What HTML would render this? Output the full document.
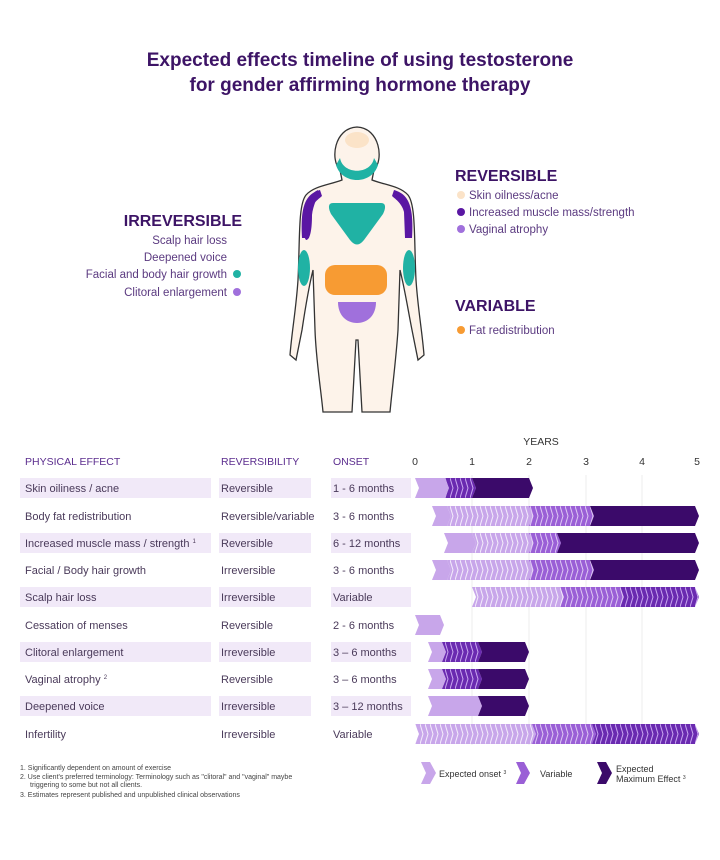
<!DOCTYPE html>
<html><head><meta charset="utf-8"><style>
html,body{margin:0;padding:0;background:#fff;}
svg{display:block;font-family:"Liberation Sans",sans-serif;}
</style></head><body>
<svg width="720" height="860" viewBox="0 0 720 860" xmlns="http://www.w3.org/2000/svg">
<defs>
<pattern id="pL" patternUnits="userSpaceOnUse" width="5" height="20"><rect width="5" height="20" fill="#c8a6ea"/><path d="M0,0 L3,10 L0,20" stroke="#fff" stroke-width="1" fill="none" opacity="0.8"/></pattern>
<pattern id="pM" patternUnits="userSpaceOnUse" width="5" height="20"><rect width="5" height="20" fill="#9a5fd6"/><path d="M0,0 L3,10 L0,20" stroke="#e6d5f7" stroke-width="1" fill="none" opacity="0.9"/></pattern>
<pattern id="pD" patternUnits="userSpaceOnUse" width="5" height="20"><rect width="5" height="20" fill="#6a2ab0"/><path d="M0,0 L3,10 L0,20" stroke="#c9a7f0" stroke-width="1" fill="none"/></pattern>
</defs>
<rect width="720" height="860" fill="#fff"/>
<g fill="#3d1466" font-weight="bold" font-size="19" text-anchor="middle">
<text x="360" y="66">Expected effects timeline of using testosterone</text>
<text x="360" y="91">for gender affirming hormone therapy</text>
</g>

<!-- figure -->
<g stroke="#333" stroke-width="1.3" fill="#fdf3ea">
<path d="M340,170 C330,160 334,128 357,127 C380,128 384,160 374,170 L372,180 C385,185 400,186 408,195 C416,205 414,240 416,280 C418,310 422,330 424,355 L418,360 L412,330 C408,310 405,290 400,270 L398,330 C396,360 392,390 390,412 L362,412 L358,340 L356,340 L352,412 L323,412 C321,390 316,360 315,330 L313,270 C308,290 305,310 302,330 L296,360 L290,355 C292,330 296,310 298,280 C300,240 298,205 306,195 C314,186 329,185 342,180 Z"/>
</g>
<ellipse cx="357" cy="140" rx="12" ry="8" fill="#fbe3c8"/>
<path d="M340,158 C343,175 371,175 374,158 L378,165 C372,185 342,185 336,165 Z" fill="#20b2a4"/>
<path d="M333,203 L381,203 C386,203 386,208 383,214 L364,240 C359,246 355,246 350,240 L331,214 C328,208 328,203 333,203 Z" fill="#20b2a4"/>
<path d="M318,190 C305,196 302,212 303,235 L306,240 C310,240 312,230 312,215 C313,205 318,198 318,190 Z" fill="#5a17a3"/>
<path d="M320,190 C306,194 300,205 302,238 L309,238 L310,212 C312,203 320,198 322,196 Z" fill="#5a17a3"/>
<path d="M394,190 C408,194 414,205 412,238 L405,238 L404,212 C402,203 394,198 392,196 Z" fill="#5a17a3"/>
<ellipse cx="304" cy="268" rx="6" ry="18" fill="#20b2a4"/>
<ellipse cx="409" cy="268" rx="6" ry="18" fill="#20b2a4"/>
<rect x="325" y="265" width="62" height="30" rx="10" fill="#f79b33"/>
<path d="M338,302 L376,302 C376,315 368,323 357,323 C346,323 338,315 338,302 Z" fill="#a070dc"/>

<!-- legends -->
<g fill="#3d1466" font-weight="bold" font-size="16">
<text x="242" y="226" text-anchor="end">IRREVERSIBLE</text>
<text x="455" y="181">REVERSIBLE</text>
<text x="455" y="311">VARIABLE</text>
</g>
<g fill="#5b3a80" font-size="11.5">
<text x="227" y="244" text-anchor="end">Scalp hair loss</text>
<text x="227" y="261" text-anchor="end">Deepened voice</text>
<text x="227" y="278" text-anchor="end">Facial and body hair growth</text>
<text x="227" y="296" text-anchor="end">Clitoral enlargement</text>
<text x="469" y="199">Skin oilness/acne</text>
<text x="469" y="216">Increased muscle mass/strength</text>
<text x="469" y="233">Vaginal atrophy</text>
<text x="469" y="334">Fat redistribution</text>
</g>
<circle cx="237" cy="274" r="4" fill="#20b2a4"/>
<circle cx="237" cy="292" r="4" fill="#a070dc"/>
<circle cx="461" cy="195" r="4" fill="#fbe3c8"/>
<circle cx="461" cy="212" r="4" fill="#5a17a3"/>
<circle cx="461" cy="229" r="4" fill="#a070dc"/>
<circle cx="461" cy="330" r="4" fill="#f79b33"/>

<!-- table header -->
<g fill="#5b2d8e" font-size="10.5">
<text x="25" y="465">PHYSICAL EFFECT</text>
<text x="221" y="465">REVERSIBILITY</text>
<text x="333" y="465">ONSET</text>
<text x="541" y="445" text-anchor="middle" fill="#333">YEARS</text>
</g>
<g fill="#333" font-size="10.5" text-anchor="middle">
<text x="415" y="465">0</text><text x="472" y="465">1</text><text x="529" y="465">2</text><text x="586" y="465">3</text><text x="642" y="465">4</text><text x="697" y="465">5</text>
</g>
<g stroke="#eee" stroke-width="1">
<line x1="472" y1="475" x2="472" y2="745"/><line x1="529" y1="475" x2="529" y2="745"/><line x1="586" y1="475" x2="586" y2="745"/><line x1="642" y1="475" x2="642" y2="745"/>
</g>
<!-- shaded rows -->
<g fill="#f1e9f8">
<rect x="20" y="478" width="191" height="20"/><rect x="219" y="478" width="92" height="20"/><rect x="331" y="478" width="80" height="20"/>
<rect x="20" y="533" width="191" height="20"/><rect x="219" y="533" width="92" height="20"/><rect x="331" y="533" width="80" height="20"/>
<rect x="20" y="587" width="191" height="20"/><rect x="219" y="587" width="92" height="20"/><rect x="331" y="587" width="80" height="20"/>
<rect x="20" y="642" width="191" height="20"/><rect x="219" y="642" width="92" height="20"/><rect x="331" y="642" width="80" height="20"/>
<rect x="20" y="696" width="191" height="20"/><rect x="219" y="696" width="92" height="20"/><rect x="331" y="696" width="80" height="20"/>
</g>
<g fill="#4a3a5a" font-size="11">
<text x="25" y="492">Skin oiliness / acne</text><text x="221" y="492">Reversible</text><text x="333" y="492">1 - 6 months</text>
<text x="25" y="520">Body fat redistribution</text><text x="221" y="520">Reversible/variable</text><text x="333" y="520">3 - 6 months</text>
<text x="25" y="547">Increased muscle mass / strength <tspan font-size="6" dy="-4">1</tspan></text><text x="221" y="547">Reversible</text><text x="333" y="547">6 - 12 months</text>
<text x="25" y="574">Facial / Body hair growth</text><text x="221" y="574">Irreversible</text><text x="333" y="574">3 - 6 months</text>
<text x="25" y="601">Scalp hair loss</text><text x="221" y="601">Irreversible</text><text x="333" y="601">Variable</text>
<text x="25" y="629">Cessation of menses</text><text x="221" y="629">Reversible</text><text x="333" y="629">2 - 6 months</text>
<text x="25" y="656">Clitoral enlargement</text><text x="221" y="656">Irreversible</text><text x="333" y="656">3 – 6 months</text>
<text x="25" y="683">Vaginal atrophy <tspan font-size="6" dy="-4">2</tspan></text><text x="221" y="683">Reversible</text><text x="333" y="683">3 – 6 months</text>
<text x="25" y="710">Deepened voice</text><text x="221" y="710">Irreversible</text><text x="333" y="710">3 – 12 months</text>
<text x="25" y="738">Infertility</text><text x="221" y="738">Irreversible</text><text x="333" y="738">Variable</text>
</g>

<!-- bars: segment polygon -->
<g>
<g transform="translate(0,478)">
<polygon points="415,0 445,0 449,10 445,20 415,20 419,10" fill="#c8a6ea"/>
<polygon points="445,0 472,0 476,10 472,20 445,20 449,10" fill="url(#pD)"/>
<polygon points="472,0 529,0 533,10 529,20 472,20 476,10" fill="#3b0a6a"/>
</g>
<g transform="translate(0,506)">
<polygon points="432,0 447,0 451,10 447,20 432,20 436,10" fill="#c8a6ea"/>
<polygon points="447,0 529,0 533,10 529,20 447,20 451,10" fill="url(#pL)"/>
<polygon points="529,0 590,0 594,10 590,20 529,20 533,10" fill="url(#pM)"/>
<polygon points="590,0 695,0 699,10 695,20 590,20 594,10" fill="#3b0a6a"/>
</g>
<g transform="translate(0,533)">
<polygon points="444,0 472,0 476,10 472,20 444,20 448,10" fill="#c8a6ea"/>
<polygon points="472,0 529,0 533,10 529,20 472,20 476,10" fill="url(#pL)"/>
<polygon points="529,0 557,0 561,10 557,20 529,20 533,10" fill="url(#pM)"/>
<polygon points="557,0 695,0 699,10 695,20 557,20 561,10" fill="#3b0a6a"/>
</g>
<g transform="translate(0,560)">
<polygon points="432,0 447,0 451,10 447,20 432,20 436,10" fill="#c8a6ea"/>
<polygon points="447,0 529,0 533,10 529,20 447,20 451,10" fill="url(#pL)"/>
<polygon points="529,0 590,0 594,10 590,20 529,20 533,10" fill="url(#pM)"/>
<polygon points="590,0 695,0 699,10 695,20 590,20 594,10" fill="#3b0a6a"/>
</g>
<g transform="translate(0,587)">
<polygon points="472,0 560,0 564,10 560,20 472,20 476,10" fill="url(#pL)"/>
<polygon points="560,0 620,0 624,10 620,20 560,20 564,10" fill="url(#pM)"/>
<polygon points="620,0 695,0 699,10 695,20 620,20 624,10" fill="url(#pD)"/>
</g>
<g transform="translate(0,615)">
<polygon points="415,0 440,0 444,10 440,20 415,20 419,10" fill="#c8a6ea"/>
</g>
<g transform="translate(0,642)">
<polygon points="428,0 442,0 446,10 442,20 428,20 432,10" fill="#c8a6ea"/>
<polygon points="442,0 478,0 482,10 478,20 442,20 446,10" fill="url(#pD)"/>
<polygon points="478,0 525,0 529,10 525,20 478,20 482,10" fill="#3b0a6a"/>
</g>
<g transform="translate(0,669)">
<polygon points="428,0 442,0 446,10 442,20 428,20 432,10" fill="#c8a6ea"/>
<polygon points="442,0 478,0 482,10 478,20 442,20 446,10" fill="url(#pD)"/>
<polygon points="478,0 525,0 529,10 525,20 478,20 482,10" fill="#3b0a6a"/>
</g>
<g transform="translate(0,696)">
<polygon points="428,0 478,0 482,10 478,20 428,20 432,10" fill="#c8a6ea"/>
<polygon points="478,0 525,0 529,10 525,20 478,20 482,10" fill="#3b0a6a"/>
</g>
<g transform="translate(0,724)">
<polygon points="415,0 532,0 536,10 532,20 415,20 419,10" fill="url(#pL)"/>
<polygon points="532,0 592,0 596,10 592,20 532,20 536,10" fill="url(#pM)"/>
<polygon points="592,0 695,0 699,10 695,20 592,20 596,10" fill="url(#pD)"/>
</g>
</g>

<!-- footnotes -->
<g fill="#444" font-size="7">
<text x="20" y="770">1.   Significantly dependent on amount  of exercise</text>
<text x="20" y="779">2.  Use client's preferred terminology: Terminology such as "clitoral" and "vaginal" maybe</text>
<text x="30" y="787">triggering to some but not all clients.</text>
<text x="20" y="797">3.  Estimates represent published and unpublished clinical observations</text>
</g>
<!-- legend -->
<polygon points="421,762 430,762 436,773 430,784 421,784 426,773" fill="#c8a6ea"/>
<polygon points="516,762 524,762 530,773 524,784 516,784 521,773" fill="#9a5fd6"/>
<polygon points="597,762 606,762 612,773 606,784 597,784 602,773" fill="#3b0a6a"/>
<g fill="#333" font-size="9">
<text x="439" y="777">Expected onset <tspan font-size="5" dy="-3">3</tspan></text>
<text x="540" y="777">Variable</text>
<text x="616" y="772">Expected</text>
<text x="616" y="782">Maximum Effect <tspan font-size="5" dy="-3">3</tspan></text>
</g>
</svg>
</body></html>
